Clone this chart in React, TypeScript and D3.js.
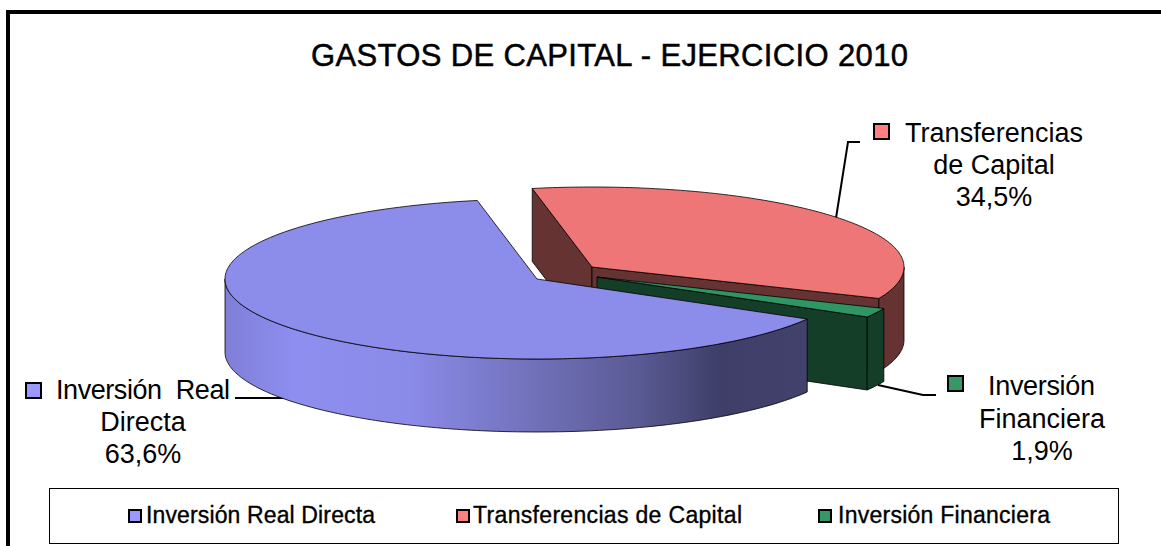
import React from 'react'
import * as d3 from 'd3'

const categories = ['Inversión Real Directa', 'Transferencias de Capital', 'Inversión Financiera']
const shares = [63.6, 34.5, 1.9]
const shareLabels = ['63,6%', '34,5%', '1,9%']
const labelLines = [['Inversión  Real', 'Directa'], ['Transferencias', 'de Capital'], ['Inversión', 'Financiera']]
const swatchColors = ['#9999ff', '#ff8080', '#339966']
const topColors = ['#8c8ceb', '#ef7676', '#2e9563']
const sideColors = ['#3e3e68', '#663333', '#143e28']

const width = 1161
const height = 546
const font = '"Liberation Sans", Arial, sans-serif'

const rx = 312
const ry = 80
const depth = 73
// each slice is pulled apart from the others, so each has its own apex
const apexes: [number, number][] = [[537, 279], [592, 267], [597, 277]]
const startDeg = 120

const pie = d3.pie<number>().sort(null)
  .startAngle((startDeg * Math.PI) / 180)
  .endAngle(((startDeg + 360) * Math.PI) / 180)
const slices = pie(shares)

const lineGen = d3.line()

const rim = (i: number, a: number, dy = 0): [number, number] => [
  apexes[i][0] + rx * Math.sin(a),
  apexes[i][1] - ry * Math.cos(a) + dy,
]

const rimPoints = (i: number, a0: number, a1: number, dy = 0) => {
  const steps = Math.max(2, Math.ceil(Math.abs(a1 - a0) * 60))
  return d3.range(steps + 1).map(k => rim(i, a0 + ((a1 - a0) * k) / steps, dy))
}

const topPath = (i: number) =>
  lineGen([apexes[i], ...rimPoints(i, slices[i].startAngle, slices[i].endAngle)]) + 'Z'

const wallPath = (i: number, a0: number, a1: number) =>
  lineGen([...rimPoints(i, a0, a1), ...rimPoints(i, a1, a0, depth)]) + 'Z'

const cutPath = (i: number, a: number) => {
  const p = rim(i, a)
  const q = apexes[i]
  return lineGen([q, p, [p[0], p[1] + depth], [q[0], q[1] + depth]]) + 'Z'
}

const legendX = [146, 473, 838]
const legendSwatchX = [128, 456, 818]
const legendWidths = [229, 269, 212]

const labelAnchors = [
  { swatch: [25, 382], x: 143, y: [399, 431, 463], firstX: 56, firstW: 174 },
  { swatch: [873, 123], x: 994, y: [142, 174, 206], firstX: 905, firstW: 178 },
  { swatch: [947, 375], x: 1042, y: [395, 428, 460], firstX: 988, firstW: 107 },
]

const leaders: [number, number][][] = [
  [[235, 398], [290, 398]],
  [[836, 218], [848, 142], [860, 142]],
  [[878, 385], [923, 395], [936, 395]],
]

export default function App() {
  const tau = Math.PI * 2
  const [blue, pink, green] = slices

  return (
    <svg width={width} height={height} style={{ position: 'absolute', left: 0, top: 0, background: '#fff' }}>
      <defs>
        <linearGradient id="blueWall" gradientUnits="userSpaceOnUse" x1={225} x2={808} y1={0} y2={0}>
          <stop offset="0" stopColor="#7f7fd8" />
          <stop offset="0.12" stopColor="#8e8ef0" />
          <stop offset="0.32" stopColor="#8a8ae8" />
          <stop offset="0.52" stopColor="#7272bc" />
          <stop offset="0.71" stopColor="#5a5a94" />
          <stop offset="0.85" stopColor="#3e3e68" />
          <stop offset="1" stopColor="#42426c" />
        </linearGradient>
      </defs>

      <path d={`M8,${height}V12H${width}`} fill="none" stroke="#000" strokeWidth={4} />

      <text x={609.5} y={66} textAnchor="middle" fontFamily={font} fontSize={31} fontWeight={400}
        stroke="#000" strokeWidth={0.5} textLength={597} lengthAdjust="spacing">
        GASTOS DE CAPITAL - EJERCICIO 2010
      </text>

      {leaders.map((l, i) => (
        <path key={i} d={lineGen(l) ?? ''} fill="none" stroke="#000" strokeWidth={2} />
      ))}

      {/* transferencias, at the back */}
      <g stroke="#000" strokeWidth={0.8} strokeLinejoin="round">
        <path d={cutPath(1, pink.startAngle)} fill={sideColors[1]} />
        <path d={cutPath(1, pink.endAngle - tau)} fill={sideColors[1]} />
        <path d={wallPath(1, Math.PI / 2, pink.endAngle - tau)} fill={sideColors[1]} />
        <path d={topPath(1)} fill={topColors[1]} />
      </g>

      {/* inversion financiera */}
      <g stroke="#000" strokeWidth={0.8} strokeLinejoin="round">
        <path d={cutPath(2, green.endAngle - tau)} fill={sideColors[2]} />
        <path d={wallPath(2, green.startAngle - tau, green.endAngle - tau)} fill={sideColors[2]} />
        <path d={topPath(2)} fill={topColors[2]} />
      </g>

      {/* inversion real directa, in front */}
      <g stroke="#000" strokeWidth={0.8} strokeLinejoin="round">
        <path d={wallPath(0, blue.startAngle, (Math.PI * 3) / 2)} fill="url(#blueWall)" />
        <path d={topPath(0)} fill={topColors[0]} />
      </g>

      {labelAnchors.map((a, i) => (
        <g key={i} fontFamily={font} fontSize={27} fill="#000">
          <rect x={a.swatch[0] + 1} y={a.swatch[1] + 1} width={15} height={15}
            fill={swatchColors[i]} stroke="#000" strokeWidth={2} />
          <text x={a.firstX} y={a.y[0]} textLength={a.firstW} lengthAdjust="spacing" style={{ whiteSpace: 'pre' }}>
            {labelLines[i][0]}
          </text>
          <text x={a.x} y={a.y[1]} textAnchor="middle">{labelLines[i][1]}</text>
          <text x={a.x} y={a.y[2]} textAnchor="middle">{shareLabels[i]}</text>
        </g>
      ))}

      <rect x={49.5} y={488.5} width={1069} height={55} fill="none" stroke="#000" strokeWidth={1} />
      {categories.map((c, i) => (
        <g key={c}>
          <rect x={legendSwatchX[i] + 1} y={510} width={12} height={12}
            fill={swatchColors[i]} stroke="#000" strokeWidth={2} />
          <text x={legendX[i]} y={523} fontFamily={font} fontSize={23} stroke="#000" strokeWidth={0.35}
            textLength={legendWidths[i]} lengthAdjust="spacing">
            {c}
          </text>
        </g>
      ))}
    </svg>
  )
}
